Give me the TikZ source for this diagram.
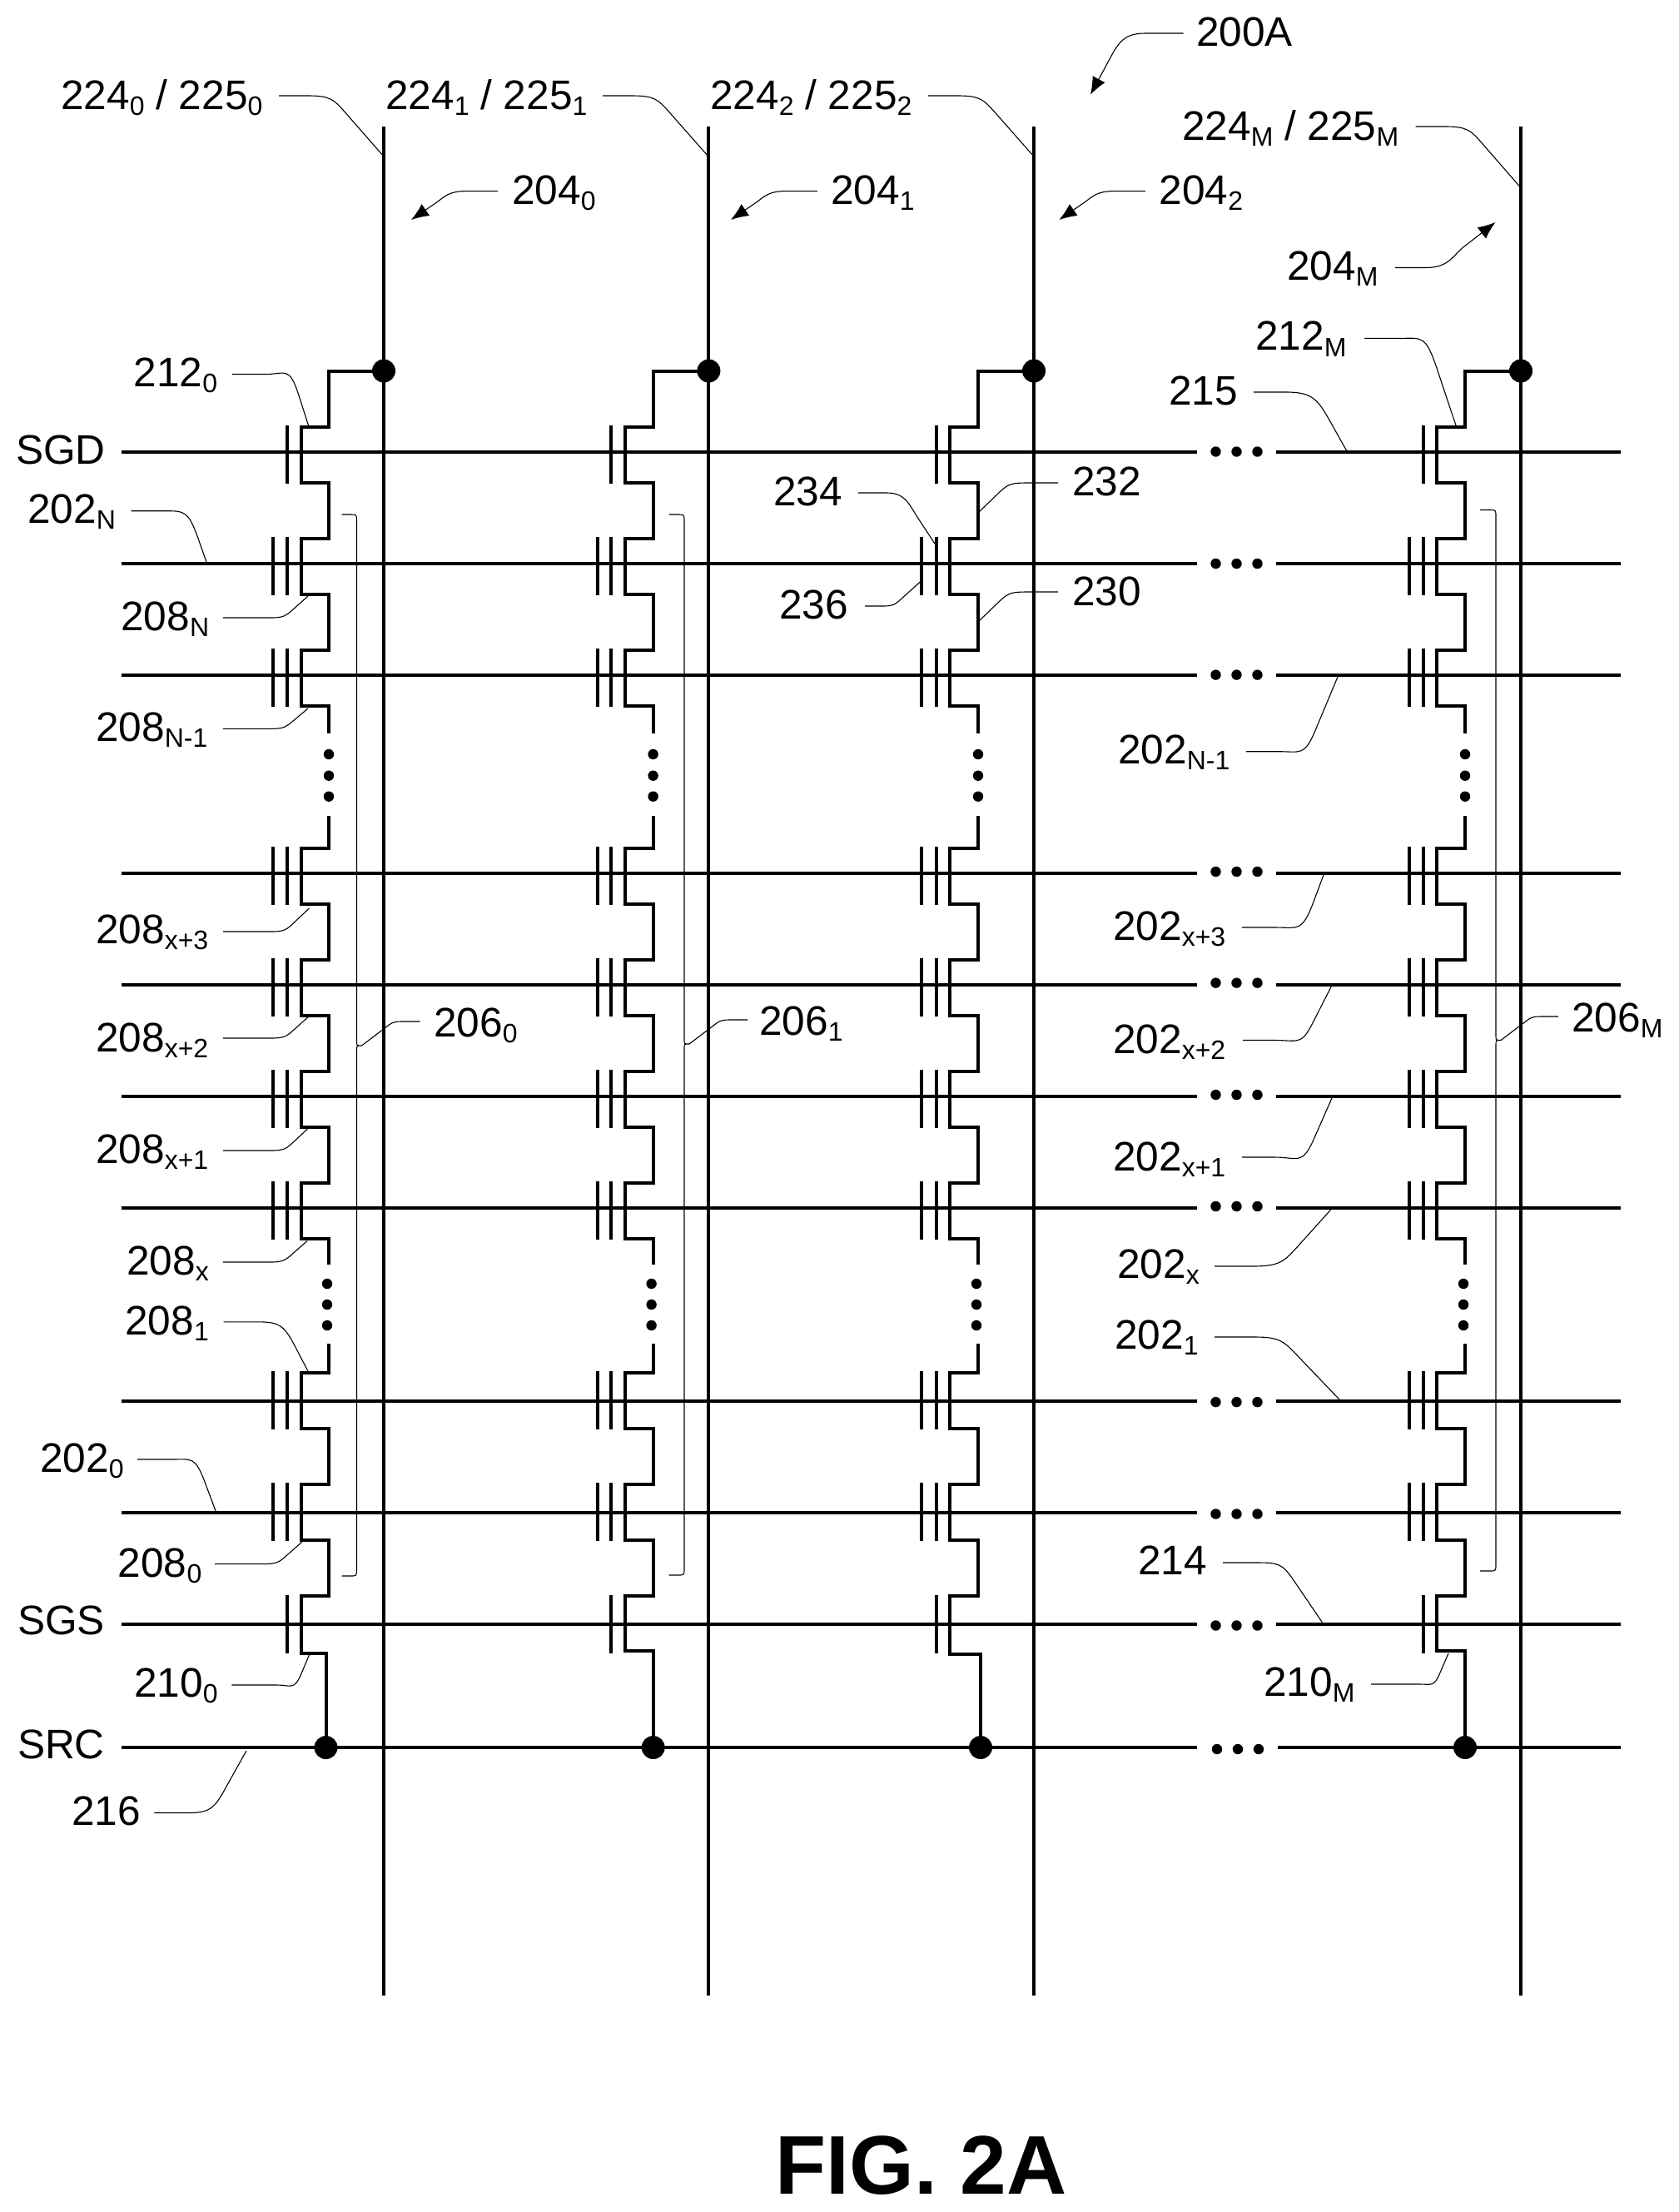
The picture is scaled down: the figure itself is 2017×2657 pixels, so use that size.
\documentclass[tikz,border=0pt]{standalone}
\usepackage{fontspec}
\setmainfont{Liberation Sans}
\usetikzlibrary{arrows.meta}
\newcommand\sbs[1]{\raisebox{-3.6pt}{\fontsize{16}{18}\selectfont #1}}
\tikzset{
  wire/.style={line width=2pt,line join=miter,line cap=butt,black},
  gatebar/.style={line width=2pt,line cap=butt,black},
  leadline/.style={line width=0.55pt,black},
  lbl/.style={anchor=base west,inner sep=0pt,outer sep=0pt,font=\fontsize{24.8}{28}\selectfont},
  junction/.style={circle,fill=black,inner sep=0pt,minimum size=14pt},
  smalldot/.style={circle,fill=black,inner sep=0pt,minimum size=6.2pt},
  tipped/.style={-{Latex[length=10.5pt,width=8.5pt]}}
}
% [style]{name}{x1}{y1}{x2}{y2}{end of the horizontal run}{bend x}{bend y}, all as fractions of the span
\newcommand\leader[9][]{%
  \pgfmathsetmacro\lax{#3+#7*(#5-#3)}%
  \pgfmathsetmacro\ldx{#3+#8*(#5-#3)}%
  \pgfmathsetmacro\ldy{#4+#9*(#6-#4)}%
  \pgfmathsetmacro\lbx{\lax+0.6*(\ldx-\lax)}%
  \pgfmathsetmacro\lt{0.3*(\ldx-\lax)/(#5-\ldx)}%
  \pgfmathsetmacro\lcx{\ldx-\lt*(#5-\ldx)}%
  \pgfmathsetmacro\lcy{\ldy-\lt*(#6-\ldy)}%
  \coordinate (#2s) at (#3,#4);
  \coordinate (#2e) at (#5,#6);
  \draw[leadline,#1] (#2s) -- (\lax,#4) .. controls (\lbx,#4) and (\lcx,\lcy) .. (\ldx,\ldy) -- (#2e);
}
\newcommand\brk[6]{% name, xl, x, top, bot, notch y
  \pgfmathsetmacro\ba{#3-8}%
  \pgfmathsetmacro\bb{#4+8}%
  \pgfmathsetmacro\bc{#6-5}%
  \pgfmathsetmacro\bd{#6+5}%
  \pgfmathsetmacro\be{#5-8}%
  \pgfmathsetmacro\bf{#3+6}%
  \coordinate (#1t) at (#2,#4);
  \coordinate (#1b) at (#2,#5);
  \coordinate (#1n) at (\bf,#6);
  \draw[leadline] (#1t) -- (\ba,#4) .. controls (#3,#4) .. (#3,\bb) -- (#3,\bc)
     .. controls (#3,#6) .. (#1n) .. controls (#3,#6) .. (#3,\bd) -- (#3,\be)
     .. controls (#3,#5) .. (\ba,#5) -- (#1b);
}
\begin{document}
\begin{tikzpicture}[x=0.5pt,y=-0.5pt]
\useasboundingbox (0,0) rectangle (2017,2657);

% word lines
\foreach \nm/\y/\dx/\dy/\rs in {sgd/542.5/0/0/1533,wn/677/0/0/1533,wm/810.6/0/0/1533,wa/1049/0/-2/1533,wb/1182.6/0/-2/1533,wc/1317/0/-2/1533,wd/1451/0/-2/1533,we/1682.6/0/1.5/1533,wf/1817/0/1.5/1533,sgs/1951/0/1.5/1533,src/2099/1.5/2/1535}{
  \coordinate (\nm L) at (146,\y);
  \coordinate (\nm B) at (1437.5,\y);
  \coordinate (\nm C) at (\rs,\y);
  \coordinate (\nm R) at (1947,\y);
  \draw[wire] (\nm L) -- (\nm B);
  \draw[wire] (\nm C) -- (\nm R);
  \pgfmathsetmacro\dya{\y+\dy}
  \pgfmathsetmacro\xa{1460.5+\dx}
  \pgfmathsetmacro\xb{1485.5+\dx}
  \pgfmathsetmacro\xc{1510.5+\dx}
  \node[smalldot] (\nm da) at (\xa,\dya) {};
  \node[smalldot] (\nm db) at (\xb,\dya) {};
  \node[smalldot] (\nm dc) at (\xc,\dya) {};
}

% strings
\foreach \id/\bit/\st/\ch/\ga/\gb/\bot/\sb in {0/461/395/361.6/344.6/327.7/391.5/1986,1/851.4/784.6/751/733.6/718/784.7/1983,2/1242/1175/1140.7/1125/1107/1178/1986.5,3/1827/1760/1726.4/1710/1693/1760/1983}{
  \coordinate (blt\id) at (\bit,152);
  \coordinate (blb\id) at (\bit,2397);
  \draw[wire] (blt\id) -- (blb\id);
  \node[junction] (dt\id) at (\bit,445.5) {};
  \node[junction] (ds\id) at (\bot,2099) {};
  % upper segment
  \draw[wire] (dt\id.center) -- (\st,445.5) -- (\st,512.5)
    foreach \c in {546,680,814}{ -- (\st,\c-33.5) -- (\ch,\c-33.5) -- (\ch,\c+33.5) -- (\st,\c+33.5) }
    -- (\st,881);
  % middle segment
  \draw[wire] (\st,980.4)
    foreach \c in {1052,1186,1320,1454}{ -- (\st,\c-33.5) -- (\ch,\c-33.5) -- (\ch,\c+33.5) -- (\st,\c+33.5) }
    -- (\st,1519);
  % lower segment
  \draw[wire] (\st,1613.5)
    foreach \c in {1682,1816}{ -- (\st,\c-33.5) -- (\ch,\c-33.5) -- (\ch,\c+33.5) -- (\st,\c+33.5) }
    -- (\st,1916.5) -- (\ch,1916.5) -- (\ch,\sb) -- (\bot,\sb) -- (ds\id.center);
  % gates
  \foreach \c in {546,1950.5}{ \draw[gatebar] (\ga,\c-35) -- (\ga,\c+35); }
  \foreach \c in {680,814,1052,1186,1320,1454,1682,1816}{
    \draw[gatebar] (\ga,\c-35) -- (\ga,\c+35);
    \draw[gatebar] (\gb,\c-35) -- (\gb,\c+35);
  }
  % vertical ellipses
  \foreach \y [count=\k] in {906,931.7,956.7}{ \node[smalldot] (vu\id\k) at (\st,\y) {}; }
  \pgfmathsetmacro\stl{\st-2}
  \foreach \y [count=\k] in {1542,1567,1592}{ \node[smalldot] (vl\id\k) at (\stl,\y) {}; }
}

% brackets
\brk{bra}{410.5}{428.5}{618}{1893}{1256}
\brk{brb}{803.7}{822}{618}{1892}{1254}
\brk{brc}{1778}{1797}{612.5}{1887}{1249.5}

% labels
\node[lbl] (n224a) at (73,131) {224\sbs{0} / 225\sbs{0}};
\node[lbl] (n224b) at (463,131) {224\sbs{1} / 225\sbs{1}};
\node[lbl] (n224c) at (853,131) {224\sbs{2} / 225\sbs{2}};
\node[lbl] (n224m) at (1420,168) {224\sbs{M} / 225\sbs{M}};
\node[lbl] (n200) at (1437,55.7) {200A};
\node[lbl] (n204a) at (615,245.7) {204\sbs{0}};
\node[lbl] (n204b) at (998,245.7) {204\sbs{1}};
\node[lbl] (n204c) at (1392.5,245.7) {204\sbs{2}};
\node[lbl] (n204m) at (1546,336.4) {204\sbs{M}};
\node[lbl] (n212a) at (160.7,464) {212\sbs{0}};
\node[lbl] (n212m) at (1508,420.8) {212\sbs{M}};
\node[lbl] (n215) at (1404,486) {215};
\node[lbl] (nsgd) at (19,557) {SGD};
\node[lbl] (n202n) at (33,628.6) {202\sbs{N}};
\node[lbl] (n208n) at (145.4,757) {208\sbs{N}};
\node[lbl] (n208m) at (115,890) {208\sbs{N-1}};
\node[lbl] (n234) at (929,607) {234};
\node[lbl] (n236) at (936,743) {236};
\node[lbl] (n232) at (1288,595) {232};
\node[lbl] (n230) at (1288,727) {230};
\node[lbl] (n202m) at (1343,917) {202\sbs{N-1}};
\node[lbl] (n208a) at (115,1133.5) {208\sbs{x+3}};
\node[lbl] (n208b) at (115,1263) {208\sbs{x+2}};
\node[lbl] (n208c) at (115,1397) {208\sbs{x+1}};
\node[lbl] (n208x) at (152,1531) {208\sbs{x}};
\node[lbl] (n202a) at (1337,1129) {202\sbs{x+3}};
\node[lbl] (n202b) at (1337,1265) {202\sbs{x+2}};
\node[lbl] (n202c) at (1337,1406) {202\sbs{x+1}};
\node[lbl] (n202x) at (1342,1535) {202\sbs{x}};
\node[lbl] (n206a) at (521,1245) {206\sbs{0}};
\node[lbl] (n206b) at (912,1243) {206\sbs{1}};
\node[lbl] (n206m) at (1888,1239) {206\sbs{M}};
\node[lbl] (n208i) at (150.4,1603.6) {208\sbs{1}};
\node[lbl] (n202i) at (1339,1620) {202\sbs{1}};
\node[lbl] (n202o) at (48,1768) {202\sbs{0}};
\node[lbl] (n208o) at (141.8,1894) {208\sbs{0}};
\node[lbl] (n214) at (1367,1891.5) {214};
\node[lbl] (nsgs) at (21,1963) {SGS};
\node[lbl] (n210a) at (161,2038) {210\sbs{0}};
\node[lbl] (n210m) at (1518,2037.5) {210\sbs{M}};
\node[lbl] (nsrc) at (21,2112) {SRC};
\node[lbl] (n216) at (86,2192) {216};
\node[anchor=base west,inner sep=0pt,font=\fontsize{50}{56}\selectfont\bfseries] (nfig) at (931,2635) {FIG. 2A};

% leaders
\leader{la}{335}{115}{461}{188}{.28}{.63}{.27}
\leader{lb}{724}{115}{851}{188}{.28}{.63}{.27}
\leader{lc}{1115}{115}{1242}{188}{.28}{.63}{.27}
\leader{ld}{1700.5}{152}{1827}{225.6}{.28}{.63}{.27}
\leader[tipped]{le}{1421.6}{40}{1310}{113.7}{.41}{.84}{.55}
\leader[tipped]{lf}{598}{229.6}{494}{264}{.36}{.72}{.42}
\leader[tipped]{lg}{982}{229.6}{878}{264}{.36}{.72}{.42}
\leader[tipped]{lh}{1376}{229.6}{1272.4}{264}{.36}{.72}{.42}
\leader[tipped]{li}{1676}{321.5}{1796.5}{267}{.31}{.69}{.47}
\leader{lj}{279}{449.5}{370.5}{511}{.44}{.88}{.44}
\leader{lk}{1639}{406.4}{1749}{511}{.38}{.79}{.34}
\leader{ll}{157.5}{613.7}{248.7}{677}{.44}{.89}{.55}
\leader{lm}{268}{742}{370}{716}{.56}{.82}{.37}
\leader{ln}{268}{875.4}{370}{851}{.56}{.82}{.37}
\leader{lo}{1506}{471}{1618}{542}{.35}{.84}{.55}
\leader{lp}{1271}{580}{1176}{615}{.33}{.74}{.32}
\leader{lq}{1271}{711}{1176}{746}{.33}{.74}{.32}
\leader{lr}{1031}{592}{1123}{653}{.37}{.79}{.52}
\leader{ls}{1039}{728}{1107}{697.5}{.33}{.67}{.34}
\leader{lt}{1497}{902.7}{1608}{810.6}{.35}{.75}{.28}
\leader{lu}{268}{1119}{371.4}{1091}{.56}{.82}{.37}
\leader{lv}{268}{1247}{371.4}{1220.5}{.56}{.82}{.37}
\leader{lw}{268}{1382}{371}{1354.5}{.56}{.82}{.37}
\leader{lx}{268}{1516}{369}{1490.6}{.56}{.82}{.37}
\leader{ly}{1492}{1114}{1590}{1051}{.40}{.88}{.50}
\leader{lz}{1493}{1249.5}{1600}{1183.5}{.36}{.78}{.30}
\leader{maa}{1492}{1390}{1600}{1319}{.36}{.80}{.31}
\leader{mab}{1459}{1521}{1599}{1452.7}{.32}{.71}{.34}
\leader{mac}{504.5}{1227}{434.5}{1256}{.32}{.58}{.23}
\leader{mad}{898}{1225}{828}{1254}{.32}{.58}{.23}
\leader{mae}{1872}{1221}{1803}{1249.5}{.32}{.58}{.23}
\leader{maf}{268.6}{1587.8}{370}{1647}{.41}{.86}{.54}
\leader{mag}{1459}{1606}{1609}{1681}{.33}{.66}{.29}
\leader{mah}{165}{1753}{259.5}{1816}{.44}{.86}{.44}
\leader{mai}{258}{1878.6}{362.8}{1852}{.56}{.82}{.37}
\leader{maj}{1469}{1877}{1588.4}{1948.7}{.34}{.71}{.29}
\leader{mak}{278.4}{2024}{371.4}{1988}{.58}{.90}{.39}
\leader{mal}{1647}{2023}{1740}{1986}{.63}{.89}{.36}
\leader{mam}{185.4}{2177.5}{296}{2103}{.40}{.80}{.47}
\end{tikzpicture}
\end{document}
